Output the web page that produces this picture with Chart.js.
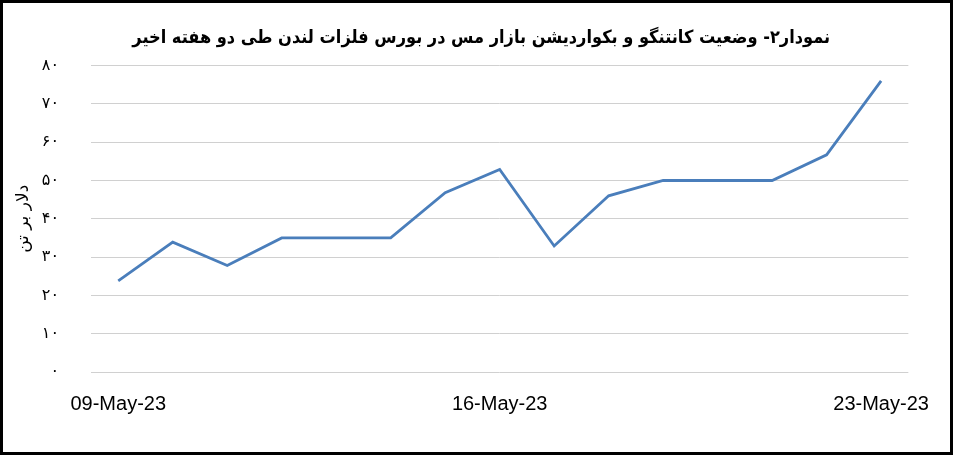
<!DOCTYPE html>
<html>
<head>
<meta charset="utf-8">
<script src="https://cdn.jsdelivr.net/npm/chart.js@4/dist/chart.umd.min.js"></script>
<style>
  html, body { margin: 0; padding: 0; background: #fff; }
  #wrap { width: 953px; height: 455px; box-sizing: border-box; border: 3px solid #000; }
  canvas { display: block; }
</style>
</head>
<body>
<div id="wrap"><canvas id="chart" width="947" height="449"></canvas></div>
<script>
const dates = ['09-May-23', '10-May-23', '11-May-23', '12-May-23', '13-May-23', '14-May-23', '15-May-23',
  '16-May-23', '17-May-23', '18-May-23', '19-May-23', '20-May-23', '21-May-23', '22-May-23', '23-May-23'];
const spread = [23.8, 33.9, 27.8, 35, 35, 35, 46.8, 52.9, 32.9, 46, 50, 50, 50, 56.7, 76];
const shownDates = ['09-May-23', '16-May-23', '23-May-23'];

const titleText = 'نمودار۲- وضعیت کانتنگو و بکواردیشن بازار مس در بورس فلزات لندن طی دو هفته اخیر';
const yTitle = 'دلار بر تن';

function toPersian(n) {
  const digits = '۰۱۲۳۴۵۶۷۸۹';
  return String(n).replace(/[0-9]/g, d => digits[d]);
}

const ctx = document.getElementById('chart').getContext('2d');
new Chart(ctx, {
  type: 'line',
  data: {
    labels: dates,
    datasets: [{
      data: spread,
      borderColor: '#4a7ebb',
      borderWidth: 2.8,
      pointRadius: 0,
      tension: 0,
      fill: false
    }]
  },
  options: {
    responsive: false,
    animation: false,
    layout: {
      padding: { left: 10, right: 33, top: 0, bottom: 36 }
    },
    plugins: {
      legend: { display: false },
      tooltip: { enabled: false },
      title: {
        display: true,
        // two em spaces in front nudge the centred title to the right like the original
        text: '\u2003\u2003' + titleText,
        color: '#000',
        font: { family: 'DejaVu Sans Condensed, DejaVu Sans', size: 18, weight: 'bold' },
        padding: { top: 25, bottom: 16 }
      }
    },
    scales: {
      x: {
        offset: true,
        afterFit: s => { s.height = 44; },
        grid: { display: false, drawTicks: false },
        border: { display: false },
        ticks: {
          autoSkip: false,
          maxRotation: 0,
          padding: 20,
          color: '#000',
          font: { family: 'Liberation Sans', size: 20 },
          callback: function (value) {
            const lab = this.getLabelForValue(value);
            return shownDates.includes(lab) ? lab : '';
          }
        }
      },
      y: {
        min: 0,
        max: 80,
        afterFit: s => { s.width = 78; },
        border: { display: false },
        grid: { color: '#d0d0d0', lineWidth: 1, drawTicks: false },
        title: {
          display: true,
          text: yTitle,
          color: '#000',
          font: { family: 'DejaVu Sans', size: 17 },
          padding: 0
        },
        ticks: {
          stepSize: 10,
          padding: 32,
          color: '#000',
          font: { family: 'DejaVu Sans', size: 16 },
          callback: v => toPersian(v)
        }
      }
    }
  }
});
</script>
</body>
</html>
